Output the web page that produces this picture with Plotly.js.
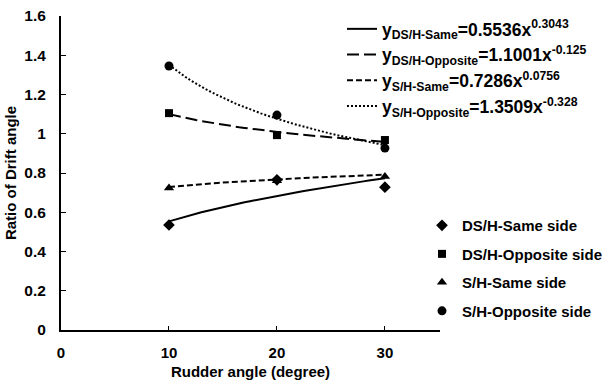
<!DOCTYPE html>
<html>
<head>
<meta charset="utf-8">
<script src="https://cdn.plot.ly/plotly-3.0.1.min.js"></script>
<style>html,body{margin:0;padding:0;background:#fff;}#chart{width:609px;height:381px;}</style>
</head>
<body>
<div id="chart"></div>
<script>
// Rudder angle (degree)
var rudderAngles = [10, 20, 30];
// Measured ratios of drift angle
var dsSame     = [0.535, 0.765, 0.728];
var dsOpposite = [1.105, 0.993, 0.968];
var sSame      = [0.724, 0.760, 0.782];
var sOpposite  = [1.345, 1.095, 0.927];
var seriesNames = ['DS/H-Same side', 'DS/H-Opposite side', 'S/H-Same side', 'S/H-Opposite side'];
// Power-law trend coefficients shown in the chart (y = a * n^b, n = rudder angle / 10)
var trendKeys   = ['DS/H-Same', 'DS/H-Opposite', 'S/H-Same', 'S/H-Opposite'];
var trendA      = [0.5536, 1.1001, 0.7286, 1.3509];
var trendB      = [0.3043, -0.125, 0.0756, -0.328];
var trendALabel = ['0.5536', '1.1001', '0.7286', '1.3509'];
var trendBLabel = ['0.3043', '-0.125', '0.0756', '-0.328'];

var symbols = ['diamond', 'square', 'triangle-up', 'circle'];
var sizes = [9, 8, 9, 9];
var dashes = ['solid', '12px,5px', '6px,3px', '2px,2px'];
var values = [dsSame, dsOpposite, sSame, sOpposite];

var traces = [];
// trend curves
var tx = [];
for (var v = 10; v <= 30; v += 0.5) tx.push(v);
for (var i = 0; i < 4; i++) {
  var ty = tx.map(function (x) { return trendA[i] * Math.pow(x / 10, trendB[i]); });
  traces.push({
    x: tx, y: ty, mode: 'lines', type: 'scatter',
    line: {color: '#000', width: 2, dash: dashes[i]},
    name: 'y<sub>' + trendKeys[i] + '</sub>=' + trendALabel[i] + 'x<sup>' + trendBLabel[i] + '</sup>',
    legend: 'legend2', legendgroup: 't' + i, hoverinfo: 'skip'
  });
}
// measured points
for (var j = 0; j < 4; j++) {
  traces.push({
    x: rudderAngles, y: values[j], mode: 'markers', type: 'scatter',
    marker: {color: '#000', symbol: symbols[j], size: sizes[j]},
    name: seriesNames[j], legend: 'legend', legendgroup: 'm' + j
  });
}

var font = {family: '"Liberation Sans", Arial, sans-serif', color: '#000'};
var layout = {
  width: 609, height: 381,
  margin: {l: 61, r: 169, t: 16, b: 51, autoexpand: false},
  paper_bgcolor: '#fff', plot_bgcolor: '#fff',
  font: font,
  showlegend: true,
  xaxis: {
    range: [0, 35.1], tickvals: [0, 10, 20, 30], ticktext: ['0', '10', '20', '30'],
    showgrid: false, zeroline: false, showline: true, linecolor: '#000', linewidth: 2,
    ticks: 'inside', ticklen: 4, tickwidth: 1, tickcolor: '#000',
    tickfont: {family: font.family, size: 15, color: '#000', weight: 'bold'},
    ticklabelstandoff: 8,
    title: {text: '<b>Rudder angle (degree)</b>', font: {family: font.family, size: 15, color: '#000'}, standoff: 6}
  },
  yaxis: {
    range: [0, 1.6], tickvals: [0, 0.2, 0.4, 0.6, 0.8, 1, 1.2, 1.4, 1.6],
    ticktext: ['0', '0.2', '0.4', '0.6', '0.8', '1', '1.2', '1.4', '1.6'],
    showgrid: false, zeroline: false, showline: true, linecolor: '#000', linewidth: 2,
    ticks: 'inside', ticklen: 5, tickwidth: 1, tickcolor: '#000',
    tickfont: {family: font.family, size: 15.5, color: '#000', weight: 'bold'},
    ticklabelstandoff: 10,
    title: {text: '<b>Ratio of Drift angle</b>', font: {family: font.family, size: 15, color: '#000'}, standoff: 4}
  },
  legend: {
    x: 0.9525, xanchor: 'left', y: 0.385, yanchor: 'top',
    bgcolor: 'rgba(0,0,0,0)', borderwidth: 0,
    font: {family: font.family, size: 15, color: '#000', weight: 'bold'},
    tracegroupgap: 6, itemwidth: 30
  },
  legend2: {
    x: 0.7414, xanchor: 'left', y: 1.016, yanchor: 'top',
    bgcolor: 'rgba(0,0,0,0)', borderwidth: 0,
    font: {family: font.family, size: 17.5, color: '#000', weight: 'bold'},
    tracegroupgap: 0, itemwidth: 30
  }
};
Plotly.newPlot('chart', traces, layout, {displayModeBar: false, staticPlot: true});
</script>
</body>
</html>
